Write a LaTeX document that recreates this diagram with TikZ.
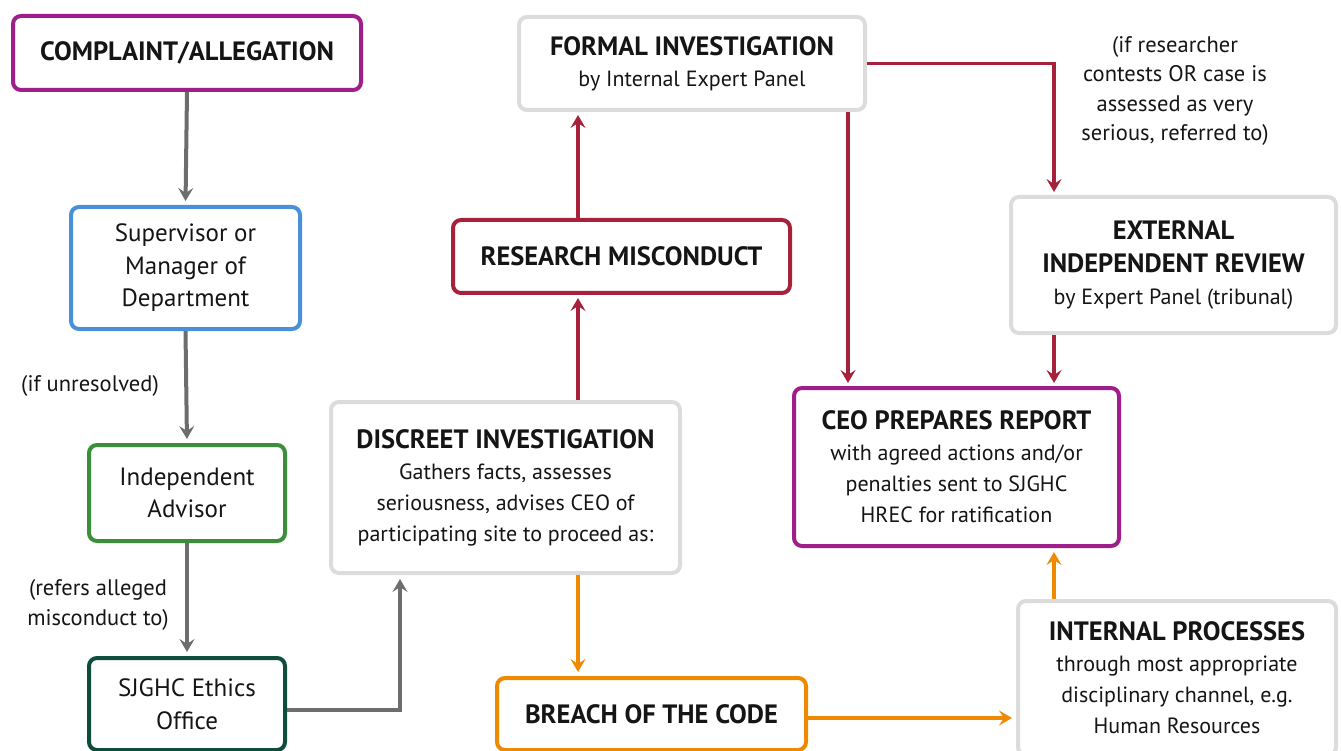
\documentclass[tikz,border=0pt]{standalone}
\usepackage{fontspec}
\setmainfont{PT Sans}
\usetikzlibrary{arrows.meta,positioning,calc}
\definecolor{cpurple}{HTML}{9E1F8C}
\definecolor{cblue}{HTML}{4A90D9}
\definecolor{cgreen}{HTML}{3C8F3A}
\definecolor{cdkgreen}{HTML}{0E4D3C}
\definecolor{cgreybox}{HTML}{DCDCDC}
\definecolor{ccrimson}{HTML}{A6213C}
\definecolor{corange}{HTML}{EE8A00}
\definecolor{cgreyline}{HTML}{6D6D6D}
\definecolor{ctext}{HTML}{151515}
\newcommand\hd[1]{{\fontsize{26.5}{31}\selectfont\bfseries #1}}
\begin{document}
\begin{tikzpicture}[x=1pt,y=-1pt,
  every node/.style={text=ctext, font=\fontsize{22}{31}\selectfont},
  box/.style={draw, line width=4pt, rounded corners=8pt, fill=white, align=center, inner sep=0pt},
  bigtxt/.style={font=\fontsize{25}{32.5}\selectfont},
  tip/.style={-{Stealth[length=13pt,width=15pt,inset=5pt]}},
  garrow/.style={tip, draw=cgreyline, line width=4pt, shorten >=4pt},
  rarrow/.style={tip, draw=ccrimson, line width=3.2pt, shorten >=3pt},
  oarrow/.style={tip, draw=corange, line width=3.5pt, shorten >=4pt},
  lbl/.style={align=center, font=\fontsize{22.5}{29.5}\selectfont}
]
\useasboundingbox (0,0) rectangle (1341,751);
% boxes
\node[box, draw=cpurple, minimum width=348pt, minimum height=74pt] (complaint) at (187,53) {\hd{COMPLAINT/ALLEGATION}\rule[-4pt]{0pt}{4pt}};
\node[box, bigtxt, draw=cblue, minimum width=229pt, minimum height=122pt] (supervisor) at (185.5,268) {Supervisor or\\Manager of\\Department};
\node[box, bigtxt, draw=cgreen, minimum width=196pt, minimum height=96pt] (advisor) at (187,493) {Independent\\Advisor};
\node[box, bigtxt, draw=cdkgreen, minimum width=196pt, minimum height=92pt] (ethics) at (187,704) {SJGHC Ethics\\Office};
\node[box, draw=cgreybox, minimum width=346pt, minimum height=93pt] (formal) at (692,63.5) {\hd{FORMAL INVESTIGATION}\rule[-3pt]{0pt}{3pt}\\by Internal Expert Panel};
\node[box, draw=ccrimson, minimum width=337pt, minimum height=73pt] (rm) at (621.5,256.5) {\hd{RESEARCH MISCONDUCT}};
\node[box, draw=cgreybox, minimum width=349pt, minimum height=171pt] (discreet) at (505.5,487.5) {\hd{DISCREET INVESTIGATION}\\Gathers facts, assesses\\seriousness, advises CEO of\\participating site to proceed as:};
\node[box, draw=corange, minimum width=309pt, minimum height=72pt] (breach) at (651.5,714) {\hd{BREACH OF THE CODE}};
\node[box, draw=cgreybox, minimum width=325pt, minimum height=136pt] (external) at (1173.5,265) {\hd{EXTERNAL}\\[1.5pt]\hd{INDEPENDENT REVIEW}\\[1pt]by Expert Panel (tribunal)};
\coordinate (extc) at ([yshift=2pt]external.center);
\node[box, draw=cpurple, minimum width=325pt, minimum height=158pt] (ceo) at (956.5,467) {\hd{CEO PREPARES REPORT}\\with agreed actions and/or\\penalties sent to SJGHC\\HREC for ratification};
\node[box, draw=cgreybox, minimum width=318pt, minimum height=154pt] (internal) at (1177,678) {\hd{INTERNAL PROCESSES}\\through most appropriate\\disciplinary channel, e.g.\\Human Resources};
% labels
\node[lbl] (l1) at (90,386) {(if unresolved)};
\node[lbl] (l2) at (98,605) {(refers alleged\\misconduct to)};
\node[lbl] (l3) at (1175,91) {(if researcher\\contests OR case is\\assessed as very\\serious, referred to)};
% column coordinates
\coordinate (c1) at (848,0);
\coordinate (c2) at (1054,0);
\coordinate (c3) at (578,0);
\coordinate (c4) at (400,0);
\coordinate (r1) at (0,710);
\coordinate (r2) at (0,718);
% grey arrows
\draw[garrow] (complaint.south) -- (supervisor.north);
\draw[garrow] (supervisor.south) -- (advisor.north);
\draw[garrow] (advisor.south) -- (ethics.north);
\draw[garrow] (ethics.east |- r1) -| (discreet.south -| c4);
% crimson arrows
\draw[rarrow] (discreet.north -| c3) -- (rm.south -| c3);
\draw[rarrow] (rm.north -| c3) -- (formal.south -| c3);
\draw[rarrow] (formal.south -| c1) -- (ceo.north -| c1);
\draw[rarrow] (formal.east) -| (external.north -| c2);
\draw[rarrow] (external.south -| c2) -- (ceo.north -| c2);
% orange arrows
\draw[oarrow] (discreet.south -| c3) -- (breach.north -| c3);
\draw[oarrow] (breach.east |- r2) -- (internal.west |- r2);
\draw[oarrow] (internal.north -| c2) -- (ceo.south -| c2);
\end{tikzpicture}
\end{document}
